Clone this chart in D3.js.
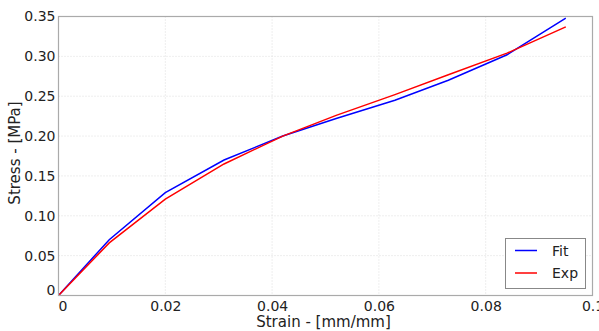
<!DOCTYPE html>
<html><head><meta charset="utf-8">
<script src="https://cdn.jsdelivr.net/npm/d3@7"></script>
<style>body{margin:0;background:#fff}svg{display:block}text{font-family:"DejaVu Sans",sans-serif;fill:#222}</style>
</head><body><svg id="c" width="599" height="331"></svg>
<script>
const strain = [0, 0.0095, 0.020, 0.031, 0.042, 0.052, 0.063, 0.073, 0.084, 0.095];
const fitStress = [0, 0.070, 0.129, 0.170, 0.200, 0.222, 0.245, 0.270, 0.302, 0.348];
const expStress = [0, 0.066, 0.121, 0.165, 0.200, 0.226, 0.252, 0.277, 0.304, 0.337];
const xTicks = [0, 0.02, 0.04, 0.06, 0.08, 0.1];
const yTicks = [0, 0.05, 0.10, 0.15, 0.20, 0.25, 0.30, 0.35];
const xLabels = ["0", "0.02", "0.04", "0.06", "0.08", "0.1"];
const yLabels = ["0", "0.05", "0.10", "0.15", "0.20", "0.25", "0.30", "0.35"];
const seriesNames = ["Fit", "Exp"];
const seriesColors = ["#0000ff", "#ff0000"];

const svg = d3.select("#c");
const L = 58.5, R = 592.5, T = 16.5, B = 295.5;
const x = d3.scaleLinear().domain([0, 0.1]).range([L, R]);
const y = d3.scaleLinear().domain([0, 0.35]).range([B, T]);

// grid
const g = svg.append("g");
g.selectAll(".vx").data(xTicks).enter().append("line")
  .attr("x1", d => x(d)).attr("x2", d => x(d)).attr("y1", T).attr("y2", B)
  .attr("stroke", "#ddd").attr("stroke-width", 1).attr("stroke-dasharray", "1,2");
g.selectAll(".hy").data(yTicks).enter().append("line")
  .attr("x1", L).attr("x2", R).attr("y1", d => y(d)).attr("y2", d => y(d))
  .attr("stroke", "#ddd").attr("stroke-width", 1).attr("stroke-dasharray", "1,2");

// axes via d3
const xa = svg.append("g").attr("transform", `translate(0,${B})`)
  .call(d3.axisBottom(x).tickValues(xTicks).tickFormat((d, i) => xLabels[i]).tickSize(0).tickPadding(6));
xa.select(".domain").remove();
xa.selectAll("text").attr("font-size", 14).attr("font-family", "DejaVu Sans").attr("fill", "#222")
  .attr("dx", d => d === 0 ? 4 : 0);
const ya = svg.append("g").attr("transform", `translate(${L},0)`)
  .call(d3.axisLeft(y).tickValues(yTicks).tickFormat((d, i) => yLabels[i]).tickSize(0).tickPadding(3));
ya.select(".domain").remove();
ya.selectAll("text").attr("font-size", 14).attr("font-family", "DejaVu Sans").attr("fill", "#222")
  .attr("transform", d => d === 0 ? "translate(0,-5)" : null);

// lines
const clip = svg.append("clipPath").attr("id", "clp").append("rect")
  .attr("x", L - 2).attr("y", T).attr("width", R - L + 2).attr("height", B - T + 3);
const line = d3.line().x(d => x(d[0])).y(d => y(d[1]));
[fitStress, expStress].forEach((s, i) => {
  svg.append("path").datum(strain.map((v, j) => [v, s[j]]))
    .attr("d", line).attr("fill", "none").attr("stroke", seriesColors[i]).attr("stroke-width", 1.5)
    .attr("clip-path", "url(#clp)");
});

// frame
svg.append("rect").attr("x", L).attr("y", T).attr("width", R - L).attr("height", B - T)
  .attr("fill", "none").attr("stroke", "#aaa").attr("stroke-width", 1.2);

// axis titles
svg.append("text").attr("x", (L + R) / 2 - 2).attr("y", 327).attr("text-anchor", "middle")
  .attr("font-size", 15).text("Strain - [mm/mm]");
svg.append("text").attr("transform", `translate(20,${(T + B) / 2 - 3}) rotate(-90)`).attr("text-anchor", "middle")
  .attr("font-size", 15).text("Stress - [MPa]");

// legend
const lg = svg.append("g");
lg.append("rect").attr("x", 505.5).attr("y", 238.5).attr("width", 80).attr("height", 50)
  .attr("fill", "#fff").attr("stroke", "#888").attr("stroke-width", 1);
seriesNames.forEach((n, i) => {
  const yy = 250.5 + i * 22.5;
  lg.append("line").attr("x1", 515).attr("x2", 537).attr("y1", yy).attr("y2", yy)
    .attr("stroke", seriesColors[i]).attr("stroke-width", 1.5);
  lg.append("text").attr("x", 552).attr("y", yy + 5).attr("font-size", 14).text(n);
});
</script></body></html>
